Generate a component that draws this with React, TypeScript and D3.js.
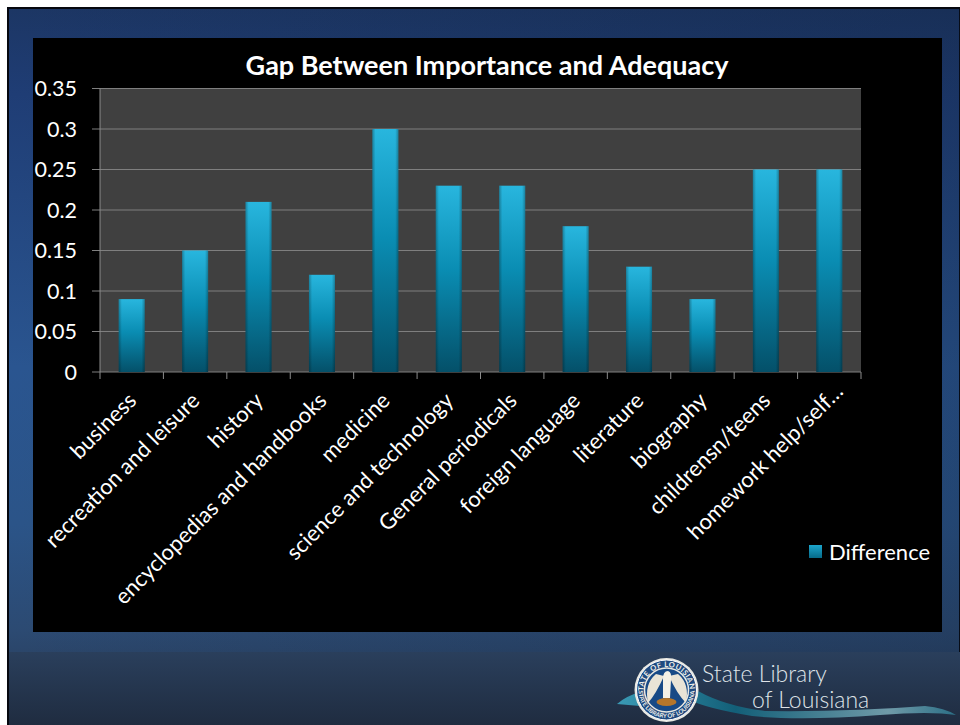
import React from "react";
import * as d3 from "d3";

const categories = ["business","recreation and leisure","history","encyclopedias and handbooks","medicine","science and technology","General periodicals","foreign language","literature","biography","childrensn/teens","homework help/self…"];
const differenceValues = [0.09,0.15,0.21,0.12,0.3,0.23,0.23,0.18,0.13,0.09,0.25,0.25];
const yTicks = [0,0.05,0.1,0.15,0.2,0.25,0.3,0.35];
const yTickLabels = ["0","0.05","0.1","0.15","0.2","0.25","0.3","0.35"];
const chartTitle = "Gap Between Importance and Adequacy";
const seriesName = "Difference";

const FONT = "Lato, 'Open Sans', sans-serif";
const plot = { left: 100, right: 861, top: 88.5, bottom: 372 };

export default function App() {
  const x = d3.scaleBand<string>().domain(categories).range([plot.left, plot.right]).paddingInner(0).paddingOuter(0);
  const y = d3.scaleLinear().domain([0, 0.35]).range([plot.bottom, plot.top]);
  const barW = 26;
  const logo = { cx: 666.5, cy: 690 };
  return (
    <svg width={960} height={725} viewBox="0 0 960 725" style={{ position: "absolute", left: 0, top: 0, display: "block" }}>
      <defs>
        <linearGradient id="bg" x1="0" y1="0" x2="0" y2="1">
          <stop offset="0" stopColor="#1c3664" />
          <stop offset="0.12" stopColor="#1f3d75" />
          <stop offset="0.5" stopColor="#2a5590" />
          <stop offset="0.72" stopColor="#2b5488" />
          <stop offset="0.87" stopColor="#2c4a72" />
          <stop offset="1" stopColor="#26364d" />
        </linearGradient>
        <linearGradient id="sideShade" x1="0" y1="0" x2="1" y2="0">
          <stop offset="0" stopColor="#0c1a30" stopOpacity="0" />
          <stop offset="1" stopColor="#0c1a30" stopOpacity="0.25" />
        </linearGradient>
        <linearGradient id="foot" x1="0" y1="0" x2="0" y2="1">
          <stop offset="0" stopColor="#2a3f5c" />
          <stop offset="1" stopColor="#1f2c40" />
        </linearGradient>
        <linearGradient id="bar" x1="0" y1="0" x2="0" y2="1">
          <stop offset="0" stopColor="#28b6de" />
          <stop offset="0.45" stopColor="#0a8db3" />
          <stop offset="1" stopColor="#045069" />
        </linearGradient>
        <linearGradient id="barSide" x1="0" y1="0" x2="1" y2="0">
          <stop offset="0" stopColor="#000" stopOpacity="0.28" />
          <stop offset="0.12" stopColor="#000" stopOpacity="0" />
          <stop offset="0.88" stopColor="#000" stopOpacity="0" />
          <stop offset="1" stopColor="#000" stopOpacity="0.28" />
        </linearGradient>
        <linearGradient id="leg" x1="0" y1="0" x2="0" y2="1">
          <stop offset="0" stopColor="#1ca5cc" />
          <stop offset="1" stopColor="#066a88" />
        </linearGradient>
        <linearGradient id="swoosh" x1="0" y1="0" x2="1" y2="0">
          <stop offset="0" stopColor="#3a9ab5" />
          <stop offset="0.35" stopColor="#135f78" />
          <stop offset="0.8" stopColor="#6f9aa8" />
          <stop offset="1" stopColor="#2b6f86" />
        </linearGradient>
        <path id="ringTop" d={`M${logo.cx - 23},${logo.cy} A23,23 0 0 1 ${logo.cx + 23},${logo.cy}`} />
        <path id="ringBottom" d={`M${logo.cx - 28},${logo.cy} A28,28 0 0 0 ${logo.cx + 28},${logo.cy}`} />
      </defs>
      <rect x={0} y={0} width={960} height={725} fill="#fff" />
      <rect x={8} y={8} width={952} height={717} fill="url(#bg)" stroke="#06080f" strokeWidth={2} />
      <rect x={9} y={9} width={951} height={716} fill="url(#sideShade)" />
      <rect x={9} y={652} width={951} height={73} fill="url(#foot)" />
      <rect x={33} y={38} width={909} height={594} fill="#000" />

      <rect x={plot.left} y={plot.top} width={plot.right - plot.left} height={plot.bottom - plot.top} fill="#404040" />
      {yTicks.map((t, i) => (
        <g key={t}>
          <line x1={92} x2={plot.right} y1={y(t)} y2={y(t)} stroke="#7f7f7f" strokeWidth={1} />
          <text x={77} y={y(t)} dy="0.36em" textAnchor="end" fill="#fff" fontFamily={FONT} fontSize={21.5}>{yTickLabels[i]}</text>
        </g>
      ))}
      <line x1={plot.left} x2={plot.left} y1={plot.top} y2={plot.bottom} stroke="#8c8c8c" />
      {d3.range(categories.length + 1).map(i => {
        const px = plot.left + i * x.step();
        return <line key={i} x1={px} x2={px} y1={plot.bottom} y2={plot.bottom + 7} stroke="#8c8c8c" />;
      })}
      {categories.map((c, i) => {
        const cx = x(c)! + x.bandwidth() / 2;
        const top = y(differenceValues[i]);
        return (
          <g key={c}>
            <rect x={cx - barW / 2} y={top} width={barW} height={plot.bottom - top} fill="url(#bar)" />
            <rect x={cx - barW / 2} y={top} width={barW} height={plot.bottom - top} fill="url(#barSide)" />
          </g>
        );
      })}
      {categories.map(c => {
        const cx = x(c)! + x.bandwidth() / 2 + 2;
        const overflow = c.endsWith("…") ? 13 : 0;
        return (
          <text key={c} transform={`translate(${cx},${plot.bottom + 26}) rotate(-45)`} dx={overflow} textAnchor="end" dominantBaseline="middle"
            fill="#fff" fontFamily={FONT} fontSize={22}>{c}</text>
        );
      })}
      <text x={487} y={74.5} textAnchor="middle" fill="#fff" fontFamily={FONT} fontSize={27} fontWeight={700}>{chartTitle}</text>
      <rect x={809} y={545} width={13} height={13} fill="url(#leg)" />
      <text x={829} y={552} dy="0.36em" fill="#fff" fontFamily={FONT} fontSize={22}>{seriesName}</text>

      <g>
        <path d="M617,704 Q626,696 640,692 L698,691 Q725,706 765,711 Q850,712 925,706 Q945,708 956,715 Q930,711 880,715 Q800,721 752,716 Q705,708 690,700 L640,706 Z" fill="url(#swoosh)" />
        <circle cx={logo.cx} cy={logo.cy} r={32} fill="#e8e8e2" />
        <circle cx={logo.cx} cy={logo.cy} r={30} fill="#1f4a80" stroke="#ffffff" strokeWidth={1} />
        <circle cx={logo.cx} cy={logo.cy} r={22} fill="#184a86" stroke="#e8e8e2" strokeWidth={1.5} />
        <text fontFamily={FONT} fontSize={7.5} fontWeight={700} fill="#f0f0ea" letterSpacing={0.4}>
          <textPath href="#ringTop" startOffset="50%" textAnchor="middle">STATE OF LOUISIANA</textPath>
        </text>
        <text fontFamily={FONT} fontSize={6} fontWeight={700} fill="#f0f0ea">
          <textPath href="#ringBottom" startOffset="50%" textAnchor="middle">STATE LIBRARY OF LOUISIANA</textPath>
        </text>
        <path d="M664,676 Q656,694 648,703 Q644,684 656,674 Z M669,676 Q677,694 686,703 Q690,684 678,674 Z" fill="#e9e4d6" />
        <path d="M663,679 Q663,671 668,671 Q672,672 671,680 L670,698 L663,698 Z" fill="#f4f1e6" />
        <ellipse cx={logo.cx} cy={702} rx={10} ry={4} fill="#b5762a" />
        <text x={702} y={682} fill="#dfe3e8" fontFamily={FONT} fontSize={23} fontWeight={300}>State Library</text>
        <text x={752} y={708} fill="#dfe3e8" fontFamily={FONT} fontSize={23} fontWeight={300}>of Louisiana</text>
      </g>
    </svg>
  );
}
